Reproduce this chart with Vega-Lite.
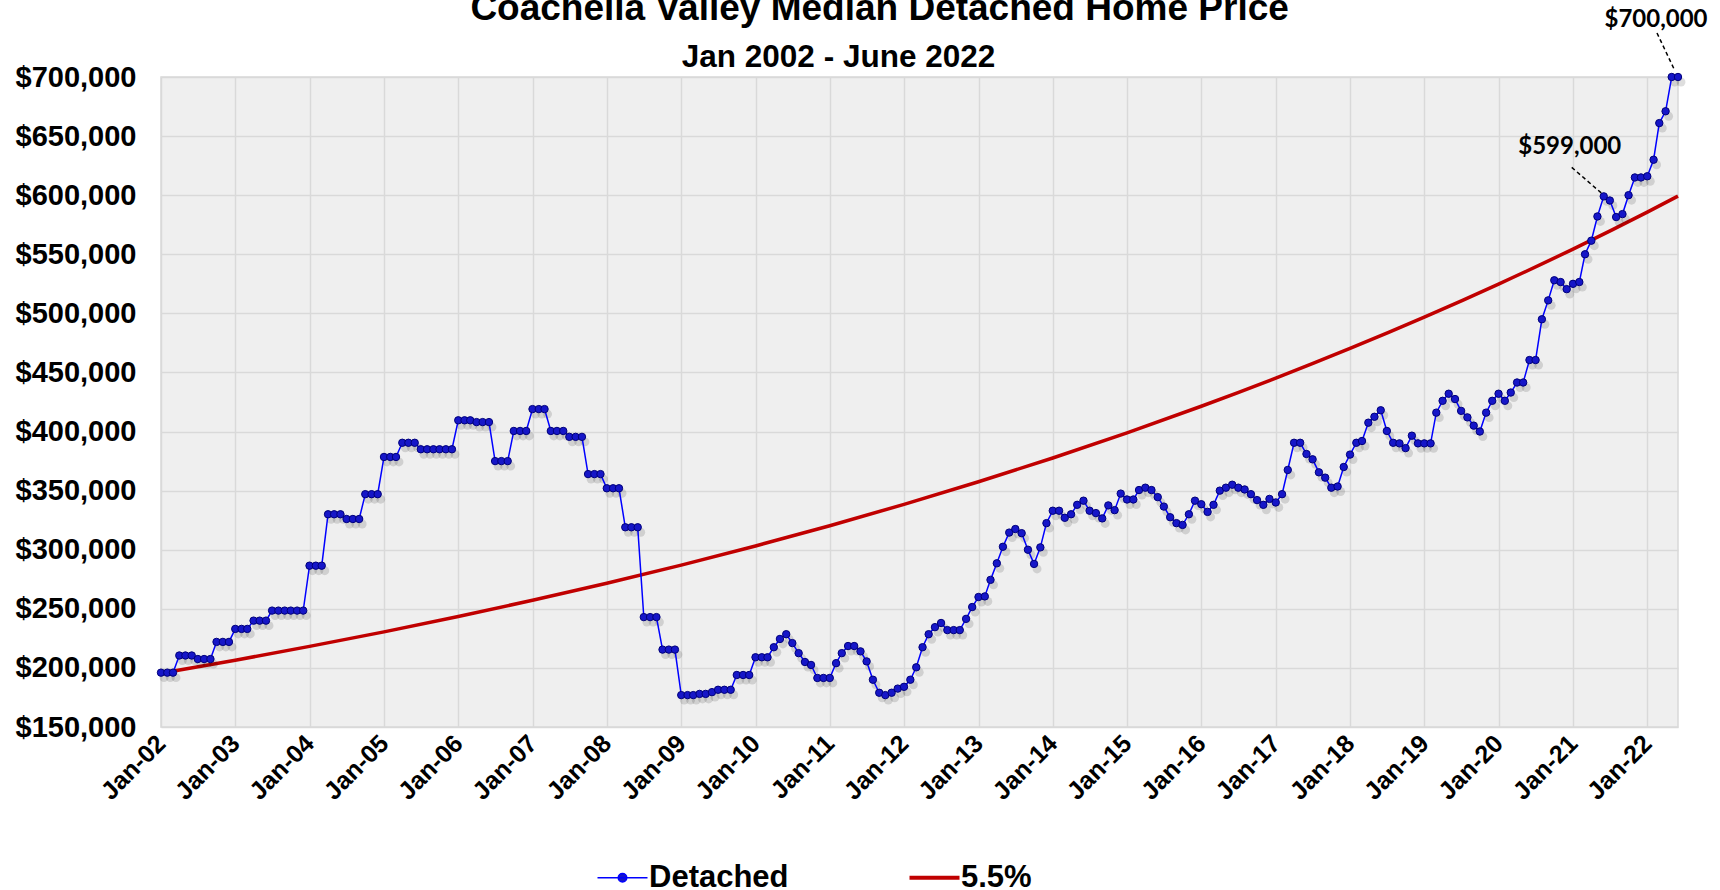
{
"$schema": "https://vega.github.io/schema/vega-lite/v6.json",
"width": 1517,
"height": 650,
"autosize": {"type": "none"},
"padding": {"left": 161, "top": 77, "right": 42, "bottom": 163},
"background": "white",
"config": {
  "font": "Liberation Sans",
  "view": {"fill": "#EFEFEF", "stroke": "#D9D9D9", "strokeWidth": 1.5}
},
"title": {
  "text": "\u200d\u00a0\u00a0\u00a0\u00a0\u00a0\u00a0\u00a0\u00a0Coachella Valley Median Detached Home Price",
  "subtitle": "Jan 2002 - June 2022",
  "font": "Liberation Sans",
  "fontSize": 37,
  "fontWeight": "bold",
  "color": "black",
  "subtitleFont": "Liberation Sans",
  "subtitleFontSize": 31.5,
  "subtitleFontWeight": "bold",
  "subtitleColor": "black",
  "subtitlePadding": 14,
  "anchor": "middle",
  "dx": -81,
  "offset": -66
},
"datasets": {
  "detached": [
    {"d":"2002-01-01","v":196000},{"d":"2002-02-01","v":196000},{"d":"2002-03-01","v":196000},{"d":"2002-04-01","v":210500},{"d":"2002-05-01","v":210500},{"d":"2002-06-01","v":210500},{"d":"2002-07-01","v":207500},{"d":"2002-08-01","v":207500},{"d":"2002-09-01","v":207500},{"d":"2002-10-01","v":222000},{"d":"2002-11-01","v":222000},{"d":"2002-12-01","v":222000},
    {"d":"2003-01-01","v":233000},{"d":"2003-02-01","v":233000},{"d":"2003-03-01","v":233000},{"d":"2003-04-01","v":240000},{"d":"2003-05-01","v":240000},{"d":"2003-06-01","v":240000},{"d":"2003-07-01","v":248500},{"d":"2003-08-01","v":248500},{"d":"2003-09-01","v":248500},{"d":"2003-10-01","v":248500},{"d":"2003-11-01","v":248500},{"d":"2003-12-01","v":248500},
    {"d":"2004-01-01","v":286500},{"d":"2004-02-01","v":286500},{"d":"2004-03-01","v":286500},{"d":"2004-04-01","v":330000},{"d":"2004-05-01","v":330000},{"d":"2004-06-01","v":330000},{"d":"2004-07-01","v":326000},{"d":"2004-08-01","v":326000},{"d":"2004-09-01","v":326000},{"d":"2004-10-01","v":347000},{"d":"2004-11-01","v":347000},{"d":"2004-12-01","v":347000},
    {"d":"2005-01-01","v":378500},{"d":"2005-02-01","v":378500},{"d":"2005-03-01","v":378500},{"d":"2005-04-01","v":390500},{"d":"2005-05-01","v":390500},{"d":"2005-06-01","v":390500},{"d":"2005-07-01","v":385000},{"d":"2005-08-01","v":385000},{"d":"2005-09-01","v":385000},{"d":"2005-10-01","v":385000},{"d":"2005-11-01","v":385000},{"d":"2005-12-01","v":385000},
    {"d":"2006-01-01","v":409500},{"d":"2006-02-01","v":409500},{"d":"2006-03-01","v":409500},{"d":"2006-04-01","v":408000},{"d":"2006-05-01","v":408000},{"d":"2006-06-01","v":408000},{"d":"2006-07-01","v":375000},{"d":"2006-08-01","v":375000},{"d":"2006-09-01","v":375000},{"d":"2006-10-01","v":400500},{"d":"2006-11-01","v":400500},{"d":"2006-12-01","v":400500},
    {"d":"2007-01-01","v":419000},{"d":"2007-02-01","v":419000},{"d":"2007-03-01","v":419000},{"d":"2007-04-01","v":400500},{"d":"2007-05-01","v":400500},{"d":"2007-06-01","v":400500},{"d":"2007-07-01","v":395500},{"d":"2007-08-01","v":395500},{"d":"2007-09-01","v":395500},{"d":"2007-10-01","v":364000},{"d":"2007-11-01","v":364000},{"d":"2007-12-01","v":364000},
    {"d":"2008-01-01","v":352000},{"d":"2008-02-01","v":352000},{"d":"2008-03-01","v":352000},{"d":"2008-04-01","v":319000},{"d":"2008-05-01","v":319000},{"d":"2008-06-01","v":319000},{"d":"2008-07-01","v":243000},{"d":"2008-08-01","v":243000},{"d":"2008-09-01","v":243000},{"d":"2008-10-01","v":215500},{"d":"2008-11-01","v":215500},{"d":"2008-12-01","v":215500},
    {"d":"2009-01-01","v":177000},{"d":"2009-02-01","v":177000},{"d":"2009-03-01","v":177000},{"d":"2009-04-01","v":178000},{"d":"2009-05-01","v":178000},{"d":"2009-06-01","v":179500},{"d":"2009-07-01","v":181500},{"d":"2009-08-01","v":181500},{"d":"2009-09-01","v":181500},{"d":"2009-10-01","v":194000},{"d":"2009-11-01","v":194000},{"d":"2009-12-01","v":194000},
    {"d":"2010-01-01","v":209000},{"d":"2010-02-01","v":209000},{"d":"2010-03-01","v":209000},{"d":"2010-04-01","v":217500},{"d":"2010-05-01","v":224500},{"d":"2010-06-01","v":228500},{"d":"2010-07-01","v":221000},{"d":"2010-08-01","v":212500},{"d":"2010-09-01","v":205000},{"d":"2010-10-01","v":202500},{"d":"2010-11-01","v":191500},{"d":"2010-12-01","v":191500},
    {"d":"2011-01-01","v":191500},{"d":"2011-02-01","v":204000},{"d":"2011-03-01","v":212500},{"d":"2011-04-01","v":218500},{"d":"2011-05-01","v":218500},{"d":"2011-06-01","v":214000},{"d":"2011-07-01","v":205500},{"d":"2011-08-01","v":190000},{"d":"2011-09-01","v":179000},{"d":"2011-10-01","v":177000},{"d":"2011-11-01","v":179000},{"d":"2011-12-01","v":182500},
    {"d":"2012-01-01","v":184000},{"d":"2012-02-01","v":190000},{"d":"2012-03-01","v":200500},{"d":"2012-04-01","v":217500},{"d":"2012-05-01","v":228500},{"d":"2012-06-01","v":234500},{"d":"2012-07-01","v":238000},{"d":"2012-08-01","v":232000},{"d":"2012-09-01","v":232000},{"d":"2012-10-01","v":232000},{"d":"2012-11-01","v":241500},{"d":"2012-12-01","v":251500},
    {"d":"2013-01-01","v":260000},{"d":"2013-02-01","v":260500},{"d":"2013-03-01","v":274500},{"d":"2013-04-01","v":288500},{"d":"2013-05-01","v":302500},{"d":"2013-06-01","v":314500},{"d":"2013-07-01","v":317500},{"d":"2013-08-01","v":314000},{"d":"2013-09-01","v":300000},{"d":"2013-10-01","v":288000},{"d":"2013-11-01","v":302000},{"d":"2013-12-01","v":322500},
    {"d":"2014-01-01","v":333000},{"d":"2014-02-01","v":333000},{"d":"2014-03-01","v":327000},{"d":"2014-04-01","v":330000},{"d":"2014-05-01","v":338000},{"d":"2014-06-01","v":341500},{"d":"2014-07-01","v":333000},{"d":"2014-08-01","v":331000},{"d":"2014-09-01","v":326500},{"d":"2014-10-01","v":337500},{"d":"2014-11-01","v":333500},{"d":"2014-12-01","v":347500},
    {"d":"2015-01-01","v":342500},{"d":"2015-02-01","v":342500},{"d":"2015-03-01","v":350500},{"d":"2015-04-01","v":352500},{"d":"2015-05-01","v":350500},{"d":"2015-06-01","v":344500},{"d":"2015-07-01","v":336500},{"d":"2015-08-01","v":327500},{"d":"2015-09-01","v":322500},{"d":"2015-10-01","v":321000},{"d":"2015-11-01","v":330000},{"d":"2015-12-01","v":341500},
    {"d":"2016-01-01","v":338500},{"d":"2016-02-01","v":332000},{"d":"2016-03-01","v":338000},{"d":"2016-04-01","v":350000},{"d":"2016-05-01","v":352500},{"d":"2016-06-01","v":355000},{"d":"2016-07-01","v":352500},{"d":"2016-08-01","v":351000},{"d":"2016-09-01","v":347000},{"d":"2016-10-01","v":342000},{"d":"2016-11-01","v":338000},{"d":"2016-12-01","v":343000},
    {"d":"2017-01-01","v":340000},{"d":"2017-02-01","v":347000},{"d":"2017-03-01","v":367500},{"d":"2017-04-01","v":390500},{"d":"2017-05-01","v":390500},{"d":"2017-06-01","v":381000},{"d":"2017-07-01","v":376500},{"d":"2017-08-01","v":365500},{"d":"2017-09-01","v":361000},{"d":"2017-10-01","v":352500},{"d":"2017-11-01","v":353500},{"d":"2017-12-01","v":370000},
    {"d":"2018-01-01","v":380500},{"d":"2018-02-01","v":390500},{"d":"2018-03-01","v":392000},{"d":"2018-04-01","v":407500},{"d":"2018-05-01","v":412500},{"d":"2018-06-01","v":418000},{"d":"2018-07-01","v":400500},{"d":"2018-08-01","v":390500},{"d":"2018-09-01","v":390000},{"d":"2018-10-01","v":386000},{"d":"2018-11-01","v":396500},{"d":"2018-12-01","v":390000},
    {"d":"2019-01-01","v":390000},{"d":"2019-02-01","v":390000},{"d":"2019-03-01","v":416000},{"d":"2019-04-01","v":426000},{"d":"2019-05-01","v":432000},{"d":"2019-06-01","v":427500},{"d":"2019-07-01","v":417500},{"d":"2019-08-01","v":412000},{"d":"2019-09-01","v":405000},{"d":"2019-10-01","v":400000},{"d":"2019-11-01","v":416000},{"d":"2019-12-01","v":426000},
    {"d":"2020-01-01","v":432000},{"d":"2020-02-01","v":426000},{"d":"2020-03-01","v":433000},{"d":"2020-04-01","v":441500},{"d":"2020-05-01","v":441500},{"d":"2020-06-01","v":460500},{"d":"2020-07-01","v":460500},{"d":"2020-08-01","v":495000},{"d":"2020-09-01","v":511000},{"d":"2020-10-01","v":528000},{"d":"2020-11-01","v":526500},{"d":"2020-12-01","v":520500},
    {"d":"2021-01-01","v":525000},{"d":"2021-02-01","v":526500},{"d":"2021-03-01","v":550000},{"d":"2021-04-01","v":561500},{"d":"2021-05-01","v":582000},{"d":"2021-06-01","v":599000},{"d":"2021-07-01","v":595500},{"d":"2021-08-01","v":581500},{"d":"2021-09-01","v":584000},{"d":"2021-10-01","v":600000},{"d":"2021-11-01","v":615000},{"d":"2021-12-01","v":615000},
    {"d":"2022-01-01","v":616000},{"d":"2022-02-01","v":630000},{"d":"2022-03-01","v":661000},{"d":"2022-04-01","v":671000},{"d":"2022-05-01","v":700000},{"d":"2022-06-01","v":700000}
  ],
  "trend": [
    {"d":"2002-01-01","v":195500},{"d":"2003-01-01","v":206500},{"d":"2004-01-01","v":218200},{"d":"2005-01-01","v":230500},{"d":"2006-01-01","v":243500},{"d":"2007-01-01","v":257200},{"d":"2008-01-01","v":271700},{"d":"2009-01-01","v":287000},{"d":"2010-01-01","v":303200},{"d":"2011-01-01","v":320300},{"d":"2012-01-01","v":338400},{"d":"2013-01-01","v":357500},{"d":"2014-01-01","v":377600},{"d":"2015-01-01","v":398900},{"d":"2016-01-01","v":421400},{"d":"2017-01-01","v":445200},{"d":"2018-01-01","v":470300},{"d":"2019-01-01","v":496800},{"d":"2020-01-01","v":524800},{"d":"2021-01-01","v":554400},{"d":"2022-01-01","v":585700},{"d":"2022-06-01","v":599200}
  ]
},
"encoding": {
  "x": {
    "field": "d", "type": "temporal",
    "scale": {"type": "utc", "domain": [{"year": 2002, "month": 1, "date": 1, "utc": true}, {"year": 2022, "month": 6, "date": 1, "utc": true}], "nice": false},
    "axis": {
      "title": null, "format": "%b-%y", "tickCount": {"interval": "year", "step": 1},
      "labelAngle": -45, "labelAlign": "right", "labelBaseline": "middle",
      "labelFont": "Liberation Sans", "labelFontSize": 25, "labelFontWeight": "bold", "labelColor": "black",
      "labelPadding": 12, "labelOverlap": false, "labelFlush": false, "labelBound": false,
      "ticks": false, "domain": false,
      "grid": true, "gridColor": "#D9D9D9", "gridWidth": 1.5
    }
  },
  "y": {
    "field": "v", "type": "quantitative",
    "scale": {"domain": [150000, 700000], "nice": false, "zero": false},
    "axis": {
      "title": null, "values": [150000,200000,250000,300000,350000,400000,450000,500000,550000,600000,650000,700000],
      "format": "$,.0f",
      "labelFont": "Liberation Sans", "labelFontSize": 29, "labelFontWeight": "bold", "labelColor": "black",
      "labelPadding": 25, "ticks": false, "domain": false,
      "grid": true, "gridColor": "#D9D9D9", "gridWidth": 1.5
    }
  }
},
"layer": [
  {
    "data": {"name": "trend"},
    "mark": {"type": "line", "strokeWidth": 3.5, "interpolate": "monotone"},
    "encoding": {
      "color": {
        "datum": "5.5%", "type": "nominal",
        "scale": {"domain": ["Detached", "5.5%"], "range": ["#0000FF", "#C00000"]},
        "legend": {
          "orient": "none", "legendX": 446, "legendY": 785, "direction": "horizontal", "title": null,
          "labelFont": "Liberation Sans", "labelFontSize": 31, "labelFontWeight": "bold", "labelColor": "black",
          "symbolSize": 2500, "symbolType": "stroke", "symbolStrokeWidth": 3,
          "columnPadding": 112, "labelOffset": 11,
          "encode": {"symbols": {"update": {
            "shape": {"signal": "datum.value === 'Detached' ? 'M-1,0H1M-0.17,0A0.17,0.17 0 1,0 0.17,0A0.17,0.17 0 1,0 -0.17,0Z' : 'M-1,0H1'"},
            "fill": {"signal": "datum.value === 'Detached' ? '#1515C8' : 'transparent'"},
            "strokeWidth": {"signal": "datum.value === 'Detached' ? 1.5 : 4"}
          }}}
        }
      }
    }
  },
  {
    "data": {"name": "detached"},
    "mark": {"type": "point", "filled": true, "size": 80, "color": "#000000", "opacity": 0.13, "xOffset": 3, "yOffset": 5}
  },
  {
    "data": {"name": "detached"},
    "mark": {"type": "line", "strokeWidth": 1.5},
    "encoding": {"color": {"datum": "Detached", "type": "nominal"}}
  },
  {
    "data": {"name": "detached"},
    "mark": {"type": "point", "filled": true, "size": 55, "fill": "#1616C8", "stroke": "#00007A", "strokeWidth": 1, "opacity": 1}
  },
  {
    "data": {"values": [{"d": "2021-06-01", "v": 599000, "label": "$599,000"}]},
    "mark": {"type": "rule", "strokeDash": [4, 3], "strokeWidth": 1.5, "color": "black", "xOffset": -32, "yOffset": -29, "x2Offset": -2, "y2Offset": -3},
    "encoding": {"x2": {"field": "d"}, "y2": {"field": "v"}}
  },
  {
    "data": {"values": [{"d": "2021-06-01", "v": 599000, "label": "$599,000"}]},
    "mark": {"type": "text", "font": "Lato", "fontWeight": "bold", "fontSize": 24, "color": "black", "dx": -34, "dy": -49, "align": "center", "baseline": "middle"},
    "encoding": {"text": {"field": "label"}}
  },
  {
    "data": {"values": [{"d": "2022-06-01", "v": 700000, "label": "$700,000"}]},
    "mark": {"type": "rule", "strokeDash": [4, 3], "strokeWidth": 1.5, "color": "black", "xOffset": -21, "yOffset": -44, "x2Offset": -3, "y2Offset": -6},
    "encoding": {"x2": {"field": "d"}, "y2": {"field": "v"}}
  },
  {
    "data": {"values": [{"d": "2022-06-01", "v": 700000, "label": "$700,000"}]},
    "mark": {"type": "text", "font": "Lato", "fontWeight": "bold", "fontSize": 24, "color": "black", "dx": -22, "dy": -57, "align": "center", "baseline": "middle"},
    "encoding": {"text": {"field": "label"}}
  }
]
}
